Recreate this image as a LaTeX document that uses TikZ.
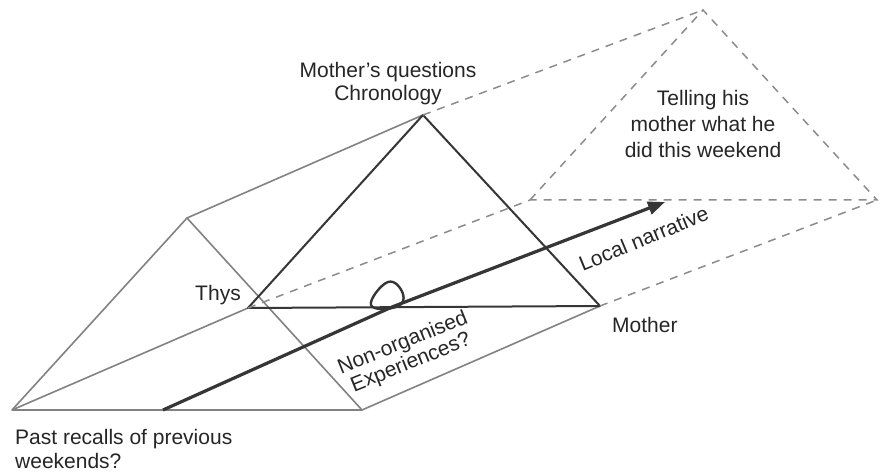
\documentclass[tikz,border=0pt]{standalone}
\usepackage{fontspec}
\setmainfont{Liberation Sans}
\usetikzlibrary{arrows.meta}
\definecolor{lightln}{HTML}{828282}
\definecolor{darkln}{HTML}{363636}
\definecolor{dashln}{HTML}{8C8C8C}
\definecolor{txt}{HTML}{262626}
\begin{document}
\begin{tikzpicture}[x=1pt,y=-1pt,
  thinln/.style={draw=lightln,line width=1.6pt,line join=round},
  darkedge/.style={draw=darkln,line width=2pt,line join=round},
  dashedge/.style={draw=dashln,line width=1.5pt,dash pattern=on 8pt off 7pt},
  mainarrow/.style={draw=darkln,line width=3.2pt,line join=round,-{Triangle[length=17pt,width=13pt]}},
  lbl/.style={font=\fontsize{21}{25}\selectfont,text=txt,inner sep=0pt}]
\useasboundingbox (0,0) rectangle (889,473);
\fill[white] (0,0) rectangle (889,473);
% vertices
\coordinate (A) at (12,410);
\coordinate (B) at (187,218);
\coordinate (C) at (362,410);
\coordinate (T) at (248,308);
\coordinate (D) at (423,115);
\coordinate (M) at (600,306);
\coordinate (L) at (530,200);
\coordinate (P) at (703,10);
\coordinate (R) at (877,200);
\coordinate (S) at (163,410);
\coordinate (K) at (392,307);
\coordinate (E) at (665,202);
% left (back) triangle and its links
\draw[thinln] (A) -- (B) -- (C) -- cycle;
\draw[thinln] (A) -- (T);
\draw[thinln] (B) -- (D);
\draw[thinln] (C) -- (M);
% middle triangle
\draw[darkedge] (T) -- (D) -- (M) -- cycle;
% dashed future triangle and links
\draw[dashedge] (L) -- (P) -- (R) -- cycle;
\draw[dashedge] (T) -- (L);
\draw[dashedge] (D) -- (P);
\draw[dashedge] (M) -- (R);
% arrow with loop
\draw[mainarrow] (S) -- (K) -- (E);
\draw[draw=darkln,line width=2.4pt] plot[smooth cycle,tension=0.8] coordinates {(396,307) (371,305) (388,282) (403,294)};
% labels
\node[lbl,anchor=north,align=center,font=\fontsize{21}{23}\selectfont] (mq) at (388,62) {Mother’s questions\\Chronology};
\node[lbl,anchor=north,align=center,font=\fontsize{21}{26}\selectfont] (tell) at (703,90) {Telling his\\mother what he\\did this weekend};
\node[lbl,anchor=base] (thys) at (218,300) {Thys};
\node[lbl,anchor=base west] (mother) at (612,332) {Mother};
\node[lbl,anchor=north west,align=left,font=\fontsize{21}{24}\selectfont] (past) at (15,429) {Past recalls of previous\\weekends?};
\node[lbl,anchor=center,rotate=22.5] (local) at (643.6,238.6) {Local narrative};
\node[lbl,anchor=center,align=center,rotate=22,font=\fontsize{21}{21.5}\selectfont] (nonorg) at (407,353.4) {Non-organised\\Experiences?};
\end{tikzpicture}
\end{document}
